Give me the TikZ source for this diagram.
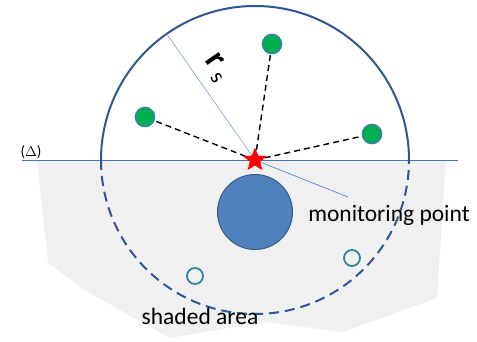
\documentclass[tikz,border=0pt]{standalone}
\usepackage{fontspec}
\setmainfont{Carlito}
\usetikzlibrary{positioning, shapes.geometric, calc}
\definecolor{rangecolor}{RGB}{47, 85, 151}
\definecolor{linecolor}{RGB}{68, 114, 196}
\definecolor{sensorcolor}{RGB}{0, 176, 80}
\definecolor{sensorborder}{RGB}{49, 133, 155}
\definecolor{pointcolor}{RGB}{79, 129, 189}
\definecolor{pointborder}{RGB}{56, 93, 138}
\definecolor{shadecolor}{RGB}{240, 240, 240}

\begin{document}
\begin{tikzpicture}[
    x=1pt, y=-1pt,
    sensor/.style={circle, draw=sensorborder, fill=sensorcolor, line width=1.6pt, minimum size=19pt, inner sep=0pt},
    offsensor/.style={circle, draw=sensorborder, line width=1.8pt, minimum size=16pt, inner sep=0pt},
    link/.style={black, line width=1.4pt, dash pattern=on 6pt off 4pt},
    ring/.style={rangecolor, line width=2pt},
    label/.style={font=\fontsize{23.5}{26}\selectfont, inner sep=0pt},
]
\useasboundingbox (0,0) rectangle (477,341);

% ============ 阴影区域 ============
\fill[shadecolor] (37,160) -- (48,263) -- (88,292) -- (170,338) -- (265,322)
    -- (343,332) -- (437,298) -- (446,160) -- cycle;

% ============ 基准线与半径 ============
\coordinate (mp) at (255,160);
\coordinate (lineL) at (22,160);
\coordinate (lineR) at (458,160);
\coordinate (rim) at ([shift={(125:154pt)}]mp);
\draw[linecolor, line width=1pt] (lineL) -- (lineR);
\node[font=\fontsize{15}{17}\selectfont, anchor=south, inner sep=1pt] (delta) at (31,160) {($\Delta$)};

\draw[ring] ([shift={(180:154pt)}]mp) arc[start angle=180, end angle=0, radius=154pt];
\draw[ring, dash pattern=on 10pt off 6pt] ([shift={(180:154pt)}]mp) arc[start angle=180, end angle=360, radius=154pt];

\draw[linecolor!70, line width=0.6pt] (mp) -- (rim);
\node[rotate=-55, inner sep=0pt, anchor=base west] (rs) at (204,60)
    {\fontsize{34}{36}\selectfont\textbf{r}\,\raisebox{-0.35ex}{\fontsize{22}{24}\selectfont s}};

% ============ 传感器 ============
\node[sensor] (s1) at (272,44) {};
\node[sensor] (s2) at (145,117) {};
\node[sensor] (s3) at (372,134) {};
\node[offsensor] (o1) at (195,276) {};
\node[offsensor] (o2) at (352,258) {};

\draw[link] (mp) -- (s1);
\draw[link] (mp) -- (s2);
\draw[link] (mp) -- (s3);

% ============ 监测点 ============
\node[circle, draw=pointborder, fill=pointcolor, line width=1pt, minimum size=75pt, inner sep=0pt] (hole) at (255,212) {};
\node[label] (mplabel) at (389,215) {monitoring point};
\coordinate (tip) at (348,197);
\draw[linecolor!80, line width=0.8pt] (mp) -- (tip);
\node[star, star points=5, star point ratio=2.3, fill=red, minimum size=25pt, inner sep=0pt] (mstar) at (mp) {};

\node[label] (shaded) at (200,316) {shaded area};

\end{tikzpicture}
\end{document}
